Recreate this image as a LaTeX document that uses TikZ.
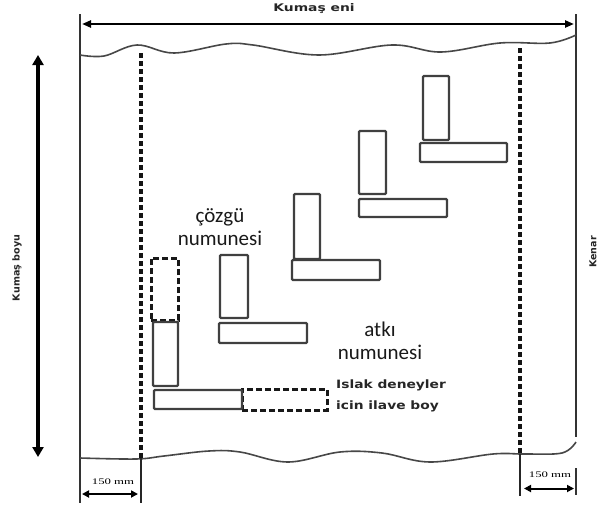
\documentclass[tikz,border=0pt]{standalone}
\usepackage{fontspec}
\newfontfamily\calib{Carlito}
\newfontfamily\lblfont{DejaVu Sans}
\newfontfamily\mmfont{Liberation Serif}
\usetikzlibrary{arrows.meta}
\begin{document}
\begin{tikzpicture}[x=1pt,y=-1pt,
  spec/.style={draw=black!75, line width=2.2pt, rounded corners=1pt, inner sep=0pt, fill=white},
  specd/.style={draw=black!90, line width=3pt, dash pattern=on 6pt off 3pt, inner sep=0pt},
  border/.style={draw=black!80, line width=1.8pt},
  guide/.style={draw=black!92, line width=3.4pt, dash pattern=on 5pt off 3pt},
  guidesolid/.style={draw=black!85, line width=1.9pt},
  wave/.style={draw=black!72, line width=1.6pt},
  dimarrow/.style={line width=2.2pt, {Triangle[length=9pt,width=7pt]}-{Triangle[length=9pt,width=7pt]}},
  bigarrow/.style={line width=3.2pt, {Triangle[length=10pt,width=11pt]}-{Triangle[length=10pt,width=11pt]}},
  smallarrow/.style={line width=2pt, {Triangle[length=7pt,width=7pt]}-{Triangle[length=7pt,width=7pt]}},
  bold/.style={font=\lblfont\bfseries, text=black!85, inner sep=0pt},
  calibtext/.style={font=\calib\fontsize{21}{23}\selectfont, text=black!90, align=center, inner sep=0pt}
]
\useasboundingbox (0,0) rectangle (600,506);
\fill[white] (0,0) rectangle (600,506);

% borders
\coordinate (lbt) at (80,14);
\coordinate (lbb) at (80,503);
\coordinate (rbt) at (576,14);
\coordinate (rbm) at (576,437);
\coordinate (rbl1) at (576,468);
\coordinate (rbl2) at (576,495);
\draw[border] (lbt) -- (lbb);
\draw[border] (rbt) -- (rbm);
\draw[border] (rbl1) -- (rbl2);

% waves
\draw[wave] plot[smooth, tension=0.6] coordinates {(80,55) (104,56) (137,45) (174,53) (226,44) (253,45) (319,55) (392,45) (441,52) (500,43) (550,43) (576,35)};
\draw[wave] plot[smooth, tension=0.6] coordinates {(80,458) (136,459) (164,456) (209,451) (240,452) (288,462) (340,452) (382,453) (430,462) (493,454) (524,454) (562,453) (576,442)};

% guide lines
\coordinate (lg1) at (141,53);
\coordinate (lg2) at (141,458);
\coordinate (lg3) at (141,503);
\coordinate (rg1) at (520,48);
\coordinate (rg2) at (520,454);
\coordinate (rg3) at (520,496);
\draw[guide] (lg1) -- (lg2);
\draw[guidesolid] (lg2) -- (lg3);
\draw[guide] (rg1) -- (rg2);
\draw[guidesolid] (rg2) -- (rg3);

% top dimension
\coordinate (ta1) at (82,24);
\coordinate (ta2) at (574,24);
\draw[dimarrow] (ta1) -- (ta2);
\node[bold, font=\lblfont\bfseries\fontsize{10.5}{12}\selectfont] (eni) at (314,9) {\scalebox{1.32}[1]{Kumaş eni}};

% left dimension
\coordinate (la1) at (38,55);
\coordinate (la2) at (38,457);
\draw[bigarrow] (la1) -- (la2);
\node[bold, font=\lblfont\bfseries\fontsize{9.6}{11}\selectfont, rotate=90] (boyu) at (17,268) {Kumaş boyu};

% Kenar
\node[bold, font=\lblfont\bfseries\fontsize{9.5}{11}\selectfont, rotate=90] (kenar) at (593,252) {Kenar};

% 150 mm
\coordinate (sa1) at (82,494);
\coordinate (sa2) at (138,494);
\draw[smallarrow] (sa1) -- (sa2);
\node[font=\mmfont\fontsize{8.5}{10}\selectfont, inner sep=0pt] (mml) at (113,482) {\scalebox{1.5}[1]{150 mm}};
\coordinate (sb1) at (524,488.5);
\coordinate (sb2) at (574,488.5);
\draw[smallarrow] (sb1) -- (sb2);
\node[font=\mmfont\fontsize{8.5}{10}\selectfont, inner sep=0pt] (mmr) at (550,475) {\scalebox{1.5}[1]{150 mm}};

% specimens
\node[spec, minimum width=26pt, minimum height=64pt] (A) at (436,108) {};
\node[spec, minimum width=87pt, minimum height=19pt] (B) at (463.5,152.5) {};
\node[spec, minimum width=27pt, minimum height=63pt] (C) at (372.5,162.5) {};
\node[spec, minimum width=88pt, minimum height=18pt] (D) at (403,208) {};
\node[spec, minimum width=26pt, minimum height=65pt] (E) at (307,226.5) {};
\node[spec, minimum width=88pt, minimum height=20pt] (F) at (336,270) {};
\node[spec, minimum width=28pt, minimum height=63pt] (G) at (234,286.5) {};
\node[spec, minimum width=88pt, minimum height=20pt] (H) at (263,333) {};
\node[specd, minimum width=27pt, minimum height=62pt] (DV) at (164.5,289) {};
\node[spec, minimum width=25pt, minimum height=64pt] (I) at (165.5,354) {};
\node[specd, minimum width=85pt, minimum height=21pt] (DH) at (284.5,399.5) {};
\node[spec, minimum width=88pt, minimum height=19pt] (J) at (198,399.5) {};

% labels
\node[calibtext] (cozgu) at (220,227) {çözgü\\numunesi};
\node[calibtext] (atki) at (380,341) {atkı\\numunesi};
\node[bold, font=\lblfont\bfseries\fontsize{11.5}{13}\selectfont, anchor=west] (islak1) at (336,385) {\scalebox{1.2}[1]{Islak deneyler}};
\node[bold, font=\lblfont\bfseries\fontsize{11.5}{13}\selectfont, anchor=west] (islak2) at (336,406) {\scalebox{1.2}[1]{icin ilave boy}};
\end{tikzpicture}
\end{document}
